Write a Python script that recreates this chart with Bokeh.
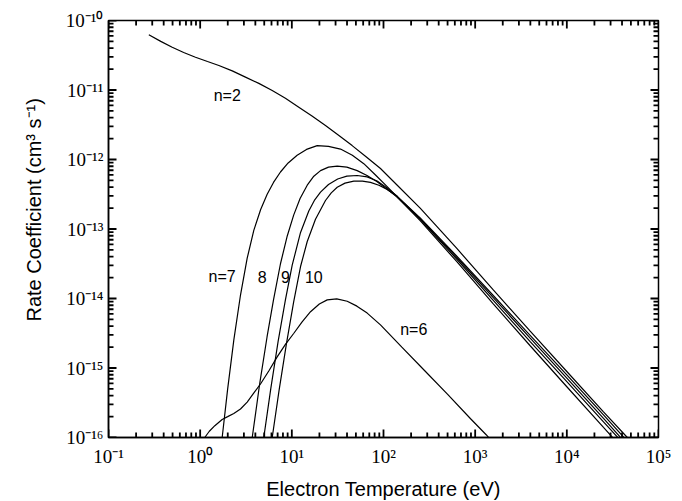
import numpy as np
from bokeh.plotting import figure
from bokeh.models import Range1d, FixedTicker, ColumnDataSource, Title
from bokeh.embed import file_html
from bokeh.resources import INLINE
from bokeh.core.properties import value

# ---- data: log10(T / eV), log10(k / cm^3 s^-1) ----
n2_logT = [-0.56, -0.43, -0.305, -0.18, -0.051, 0.08, 0.204, 0.35, 0.494, 0.64, 0.786, 0.93,
           1.076, 1.22, 1.367, 1.51, 1.658, 1.81, 1.967, 2.15, 2.4, 2.8, 3.2, 3.6, 4.0, 4.4, 4.66, 4.70]
n2_logk = [-10.206, -10.30, -10.384, -10.46, -10.528, -10.59, -10.647, -10.725, -10.815, -10.905,
           -11.007, -11.12, -11.247, -11.375, -11.511, -11.65, -11.80, -11.96, -12.13, -12.37,
           -12.70, -13.28, -13.88, -14.47, -15.05, -15.63, -16.0, -16.06]

n6_logT = [0.02, 0.05, 0.10, 0.16, 0.24, 0.30, 0.367, 0.44, 0.513, 0.58, 0.658, 0.75, 0.84, 0.93,
           1.022, 1.11, 1.204, 1.30, 1.386, 1.49, 1.604, 1.71, 1.822, 1.967, 2.2, 2.45, 2.7, 2.95,
           3.12, 3.16]
n6_logk = [-16.06, -16.0, -15.91, -15.83, -15.74, -15.70, -15.655, -15.59, -15.49, -15.37, -15.23,
           -15.04, -14.84, -14.66, -14.50, -14.34, -14.19, -14.08, -14.02, -14.005, -14.04, -14.11,
           -14.21, -14.38, -14.70, -15.04, -15.38, -15.73, -15.96, -16.02]

n7_logT = [0.21, 0.24, 0.30, 0.367, 0.44, 0.513, 0.585, 0.66, 0.731, 0.80, 0.876, 0.96, 1.058,
           1.16, 1.277, 1.40, 1.531, 1.66, 1.785, 1.91, 2.04, 2.149, 2.4, 2.8, 3.2, 3.6, 4.0, 4.4, 4.52]
n7_logk = [-16.42, -16.0, -15.3, -14.6, -13.95, -13.42, -13.02, -12.72, -12.50, -12.33, -12.18,
           -12.05, -11.94, -11.855, -11.80, -11.81, -11.85, -11.94, -12.06, -12.22, -12.39, -12.54,
           -12.88, -13.47, -14.08, -14.68, -15.27, -15.855, -16.03]

n8_logT = [0.54, 0.568, 0.65, 0.73, 0.80, 0.876, 0.95, 1.02, 1.09, 1.168, 1.24, 1.313, 1.40, 1.495,
           1.60, 1.713, 1.82, 1.931, 2.04, 2.149, 2.4, 2.8, 3.2, 3.6, 4.0, 4.4, 4.57]
n8_logk = [-16.3, -16.0, -15.22, -14.55, -14.02, -13.50, -13.10, -12.80, -12.56, -12.37, -12.24,
           -12.16, -12.11, -12.095, -12.11, -12.16, -12.23, -12.32, -12.43, -12.54, -12.86, -13.435,
           -14.03, -14.62, -15.195, -15.775, -16.02]

n9_logT = [0.665, 0.694, 0.77, 0.85, 0.93, 1.004, 1.095, 1.185, 1.25, 1.313, 1.40, 1.50, 1.60,
           1.713, 1.822, 1.93, 2.04, 2.149, 2.4, 2.8, 3.2, 3.6, 4.0, 4.4, 4.6]
n9_logk = [-16.3, -16.0, -15.30, -14.62, -14.02, -13.52, -13.05, -12.74, -12.58, -12.47, -12.36,
           -12.28, -12.24, -12.23, -12.25, -12.31, -12.41, -12.53, -12.85, -13.41, -13.99, -14.57,
           -15.145, -15.725, -16.02]

n10_logT = [0.755, 0.786, 0.86, 0.94, 1.02, 1.095, 1.168, 1.258, 1.367, 1.43, 1.495, 1.58, 1.676,
            1.77, 1.858, 1.95, 2.04, 2.149, 2.4, 2.8, 3.2, 3.6, 4.0, 4.4, 4.63]
n10_logk = [-16.3, -16.0, -15.33, -14.66, -14.05, -13.54, -13.18, -12.86, -12.59, -12.48, -12.40,
            -12.34, -12.31, -12.31, -12.33, -12.37, -12.43, -12.53, -12.84, -13.39, -13.96, -14.53,
            -15.10, -15.675, -16.01]

curve_logT = [n2_logT, n6_logT, n7_logT, n8_logT, n9_logT, n10_logT]
curve_logk = [n2_logk, n6_logk, n7_logk, n8_logk, n9_logk, n10_logk]

# curve labels
label_text = ["n=2", "n=7", "8", "9", "10", "n=6"]
label_logT = [0.295, 0.240, 0.677, 0.931, 1.24, 2.33]
label_logk = [-11.08, -13.69, -13.69, -13.69, -13.69, -14.44]

# axes
x_lo, x_hi = 1e-1, 1e5
y_lo, y_hi = 1e-16, 1e-10
x_ticks = [1e-1, 1e0, 1e1, 1e2, 1e3, 1e4, 1e5]
x_tick_labels = ["10\u207b\u00b9", "10\u2070", "10\u00b9", "10\u00b2", "10\u00b3", "10\u2074", "10\u2075"]
y_ticks = [1e-16, 1e-15, 1e-14, 1e-13, 1e-12, 1e-11, 1e-10]
y_tick_labels = ["10\u207b\u00b9\u2076", "10\u207b\u00b9\u2075", "10\u207b\u00b9\u2074", "10\u207b\u00b9\u00b3",
                 "10\u207b\u00b9\u00b2", "10\u207b\u00b9\u00b9", "10\u207b\u00b9\u2070"]
x_title = "Electron Temperature (eV)"
y_title = "Rate Coefficient (cm\u00b3 s\u207b\u00b9)"

x_minor = [m * 10.0 ** d for d in range(-1, 5) for m in range(2, 10)]
y_minor = [m * 10.0 ** d for d in range(-16, -10) for m in range(2, 10)]

FW, FH = 550, 417                     # frame size in px
px_x = 6.0 / FW                       # decades per px along x
px_y = 6.0 / FH                       # decades per px along y
MAJ, MIN, OUT = 8, 5, 3               # tick lengths in px (inside) and overshoot (clipped)

p = figure(frame_width=FW, frame_height=FH, x_axis_type="log", y_axis_type="log",
           x_range=Range1d(x_lo, x_hi), y_range=Range1d(y_lo, y_hi),
           output_backend="svg", toolbar_location=None,
           min_border_left=108, min_border_right=24, min_border_top=20, min_border_bottom=64)
p.xgrid.visible = False
p.ygrid.visible = False
p.background_fill_color = "white"
p.border_fill_color = "white"
p.outline_line_color = "black"
p.outline_line_width = 1.5

for lt, lk in zip(curve_logT, curve_logk):
    p.line(10.0 ** np.array(lt), 10.0 ** np.array(lk), line_color="black", line_width=1.2)

src = ColumnDataSource(dict(x=10.0 ** np.array(label_logT), y=10.0 ** np.array(label_logk), t=label_text))
p.text(x="x", y="y", text="t", source=src, text_font=value("Liberation Sans"),
       text_font_size="16px", text_align="center", text_baseline="middle", text_color="black")

# inward tick marks on all four sides of the frame (segments start just outside, clipped by the frame)
seg_kw = dict(line_color="black", line_width=1.8)
gy = 10.0 ** (OUT * px_y)
gx = 10.0 ** (OUT * px_x)
for ticks, ln in ((x_ticks, MAJ), (x_minor, MIN)):
    t = np.array(ticks)
    f = 10.0 ** (ln * px_y)
    p.segment(x0=t, y0=np.full(t.size, y_lo / gy), x1=t, y1=np.full(t.size, y_lo * f), **seg_kw)
    p.segment(x0=t, y0=np.full(t.size, y_hi * gy), x1=t, y1=np.full(t.size, y_hi / f), **seg_kw)
for ticks, ln in ((y_ticks, MAJ), (y_minor, MIN)):
    t = np.array(ticks)
    f = 10.0 ** (ln * px_x)
    p.segment(x0=np.full(t.size, x_lo / gx), y0=t, x1=np.full(t.size, x_lo * f), y1=t, **seg_kw)
    p.segment(x0=np.full(t.size, x_hi * gx), y0=t, x1=np.full(t.size, x_hi / f), y1=t, **seg_kw)

xt = FixedTicker(ticks=x_ticks, minor_ticks=[])
yt = FixedTicker(ticks=y_ticks, minor_ticks=[])

def style(ax):
    ax.axis_line_color = "black"
    ax.axis_line_width = 1.5
    ax.major_tick_in = 0
    ax.major_tick_out = 0
    ax.minor_tick_in = 0
    ax.minor_tick_out = 0
    ax.major_tick_line_color = None
    ax.minor_tick_line_color = None

xa = p.xaxis[0]
xa.ticker = xt
style(xa)
xa.major_label_overrides = dict(zip(x_ticks, x_tick_labels))
xa.major_label_text_font = "Liberation Serif"
xa.major_label_text_font_size = "19px"
xa.major_label_text_color = "black"
xa.major_label_standoff = 8
xa.axis_label = x_title
xa.axis_label_text_font = "Liberation Sans"
xa.axis_label_text_font_style = "normal"
xa.axis_label_text_font_size = "20px"
xa.axis_label_text_color = "black"
xa.axis_label_standoff = 8

ya = p.yaxis[0]
ya.ticker = yt
style(ya)
ya.major_label_overrides = dict(zip(y_ticks, y_tick_labels))
ya.major_label_text_font = "Liberation Serif"
ya.major_label_text_font_size = "19px"
ya.major_label_text_color = "black"
ya.major_label_standoff = 5

p.add_layout(Title(text=y_title, align="left", offset=116, vertical_align="bottom", standoff=36,
                   text_font="Liberation Sans", text_font_style="normal",
                   text_font_size="20px", text_color="black"), "left")

open("out.html", "w").write(file_html(p, INLINE))
